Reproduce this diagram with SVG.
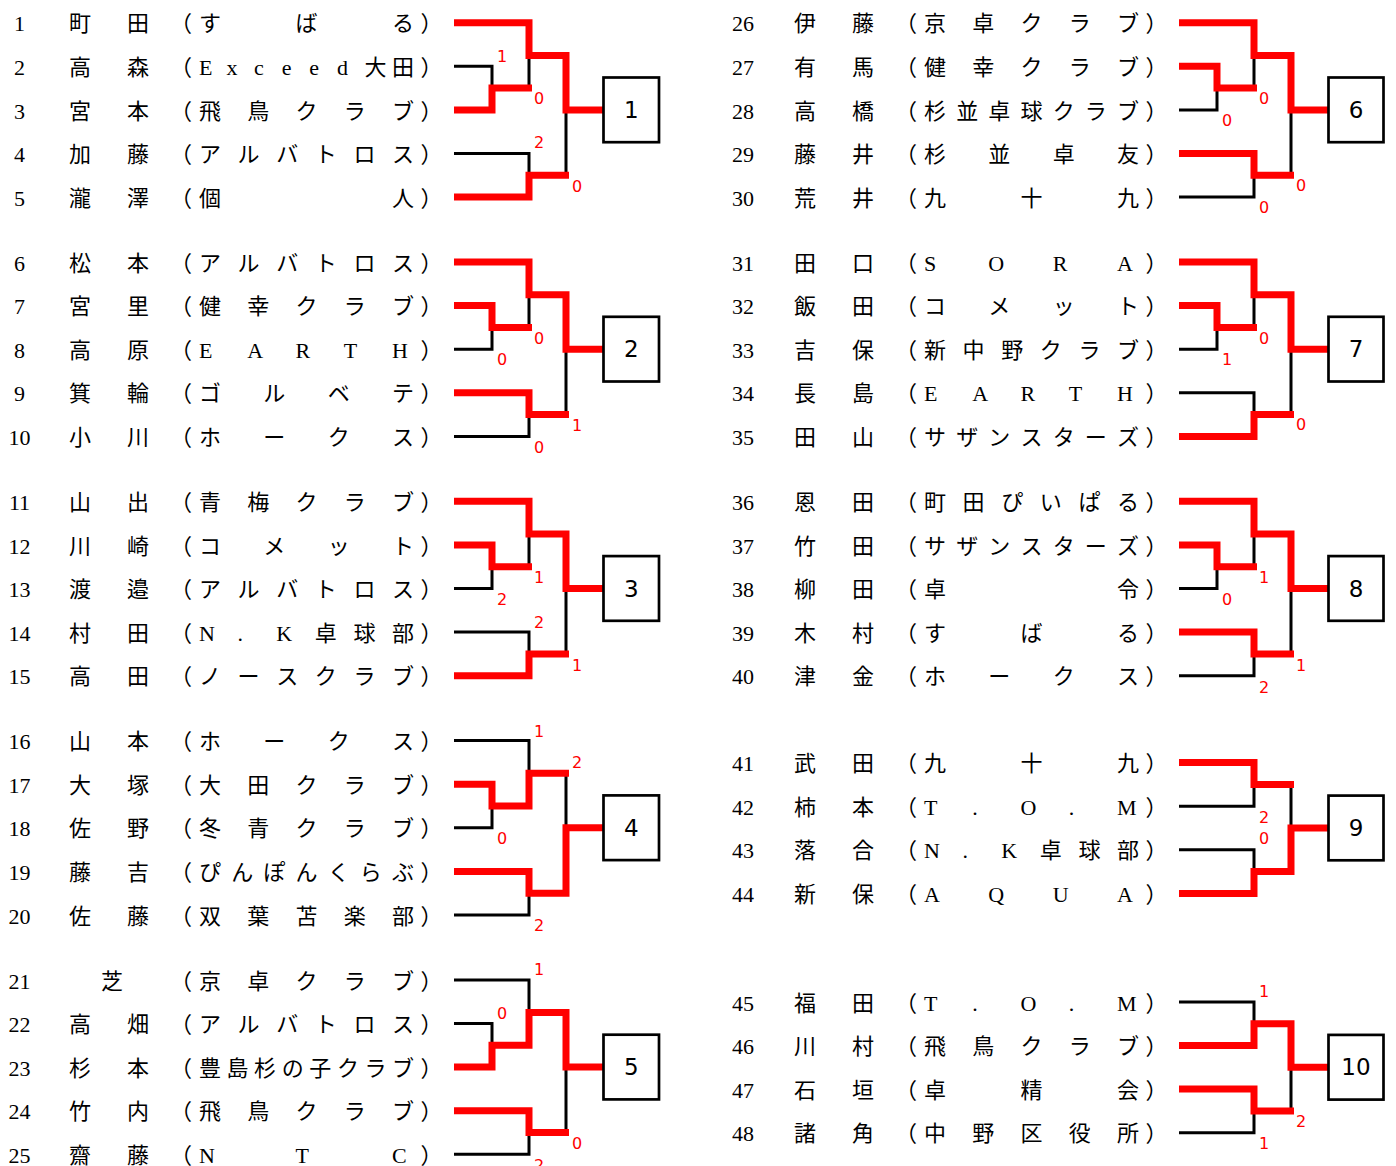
<svg xmlns="http://www.w3.org/2000/svg" width="1396" height="1166" viewBox="0 0 1396 1166">
<style>
.t{font-family:"Liberation Serif","Noto Sans CJK JP",serif;font-size:22px;fill:#000}
.n{font-family:"Liberation Serif","Noto Sans CJK JP",serif;font-size:22px;fill:#000;text-anchor:middle}
.k{fill:none;stroke:#000;stroke-width:3;stroke-linejoin:miter}
.r{fill:none;stroke:#f00;stroke-width:7;stroke-linejoin:miter}
.s{font-family:"DejaVu Sans",Verdana,sans-serif;font-size:16px;fill:#f00;text-anchor:middle}
.box rect{fill:#fff;stroke:#000;stroke-width:2.7}
.box text{font-family:"DejaVu Sans",Verdana,sans-serif;font-size:23px;fill:#000;text-anchor:middle}
</style>
<rect width="1396" height="1166" fill="#fff"/>
<g id="connectors">
<g id="black-lines">
<path class="k" d="M454,22.7H529V88.1M454,66.3H492V109.9H454M492,88.1H529M529,55.4H566M454,153.5H529V197.1H454M529,175.3H566M566,55.4V175.3M566,109.9H603.5"/>
<path class="k" d="M454,262H529V327.4M454,305.6H492V349.2H454M492,327.4H529M529,294.7H566M454,392.8H529V436.4H454M529,414.6H566M566,294.7V414.6M566,349.2H603.5"/>
<path class="k" d="M454,501.3H529V566.7M454,544.9H492V588.5H454M492,566.7H529M529,534H566M454,632.1H529V675.7H454M529,653.9H566M566,534V653.9M566,588.5H603.5"/>
<path class="k" d="M454,740.6H529V806M454,784.2H492V827.8H454M492,806H529M529,773.3H566M454,871.4H529V915H454M529,893.2H566M566,773.3V893.2M566,827.8H603.5"/>
<path class="k" d="M454,979.9H529V1045.3M454,1023.5H492V1067.1H454M492,1045.3H529M529,1012.6H566M454,1110.7H529V1154.3H454M529,1132.5H566M566,1012.6V1132.5M566,1067.1H603.5"/>
<path class="k" d="M1179,22.7H1254V88.1M1179,66.3H1217V109.9H1179M1217,88.1H1254M1254,55.4H1291M1179,153.5H1254V197.1H1179M1254,175.3H1291M1291,55.4V175.3M1291,109.9H1328.5"/>
<path class="k" d="M1179,262H1254V327.4M1179,305.6H1217V349.2H1179M1217,327.4H1254M1254,294.7H1291M1179,392.8H1254V436.4H1179M1254,414.6H1291M1291,294.7V414.6M1291,349.2H1328.5"/>
<path class="k" d="M1179,501.3H1254V566.7M1179,544.9H1217V588.5H1179M1217,566.7H1254M1254,534H1291M1179,632.1H1254V675.7H1179M1254,653.9H1291M1291,534V653.9M1291,588.5H1328.5"/>
<path class="k" d="M1179,762.6H1254V806.2H1179M1254,784.4H1291M1179,849.8H1254V893.4H1179M1254,871.6H1291M1291,784.4V871.6M1291,828H1328.5"/>
<path class="k" d="M1179,1001.9H1254V1045.5H1179M1254,1023.7H1291M1179,1089.1H1254V1132.7H1179M1254,1110.9H1291M1291,1023.7V1110.9M1291,1067.3H1328.5"/>
</g>
<g id="winner-lines">
<path class="r" d="M454,22.7H529V55.4H566V109.9H603.5"/>
<path class="r" d="M454,109.9H492V88.1H532"/>
<path class="r" d="M454,197.1H529V175.3H569"/>
<path class="r" d="M454,262H529V294.7H566V349.2H603.5"/>
<path class="r" d="M454,305.6H492V327.4H532"/>
<path class="r" d="M454,392.8H529V414.6H569"/>
<path class="r" d="M454,501.3H529V534H566V588.5H603.5"/>
<path class="r" d="M454,544.9H492V566.7H532"/>
<path class="r" d="M454,675.7H529V653.9H569"/>
<path class="r" d="M454,784.2H492V806H529V773.3H569"/>
<path class="r" d="M454,871.4H529V893.2H566V827.8H603.5"/>
<path class="r" d="M454,1067.1H492V1045.3H529V1012.6H566V1067.1H603.5"/>
<path class="r" d="M454,1110.7H529V1132.5H569"/>
<path class="r" d="M1179,22.7H1254V55.4H1291V109.9H1328.5"/>
<path class="r" d="M1179,66.3H1217V88.1H1257"/>
<path class="r" d="M1179,153.5H1254V175.3H1294"/>
<path class="r" d="M1179,262H1254V294.7H1291V349.2H1328.5"/>
<path class="r" d="M1179,305.6H1217V327.4H1257"/>
<path class="r" d="M1179,436.4H1254V414.6H1294"/>
<path class="r" d="M1179,501.3H1254V534H1291V588.5H1328.5"/>
<path class="r" d="M1179,544.9H1217V566.7H1257"/>
<path class="r" d="M1179,632.1H1254V653.9H1294"/>
<path class="r" d="M1179,762.6H1254V784.4H1294"/>
<path class="r" d="M1179,893.4H1254V871.6H1291V828H1328.5"/>
<path class="r" d="M1179,1045.5H1254V1023.7H1291V1067.3H1328.5"/>
<path class="r" d="M1179,1089.1H1254V1110.9H1294"/>
</g>
<g id="scores">
<text class="s" x="502" y="62">1</text><text class="s" x="539" y="104">0</text><text class="s" x="539" y="148">2</text><text class="s" x="577" y="192">0</text>
<text class="s" x="539" y="344">0</text><text class="s" x="502" y="365">0</text><text class="s" x="577" y="431">1</text><text class="s" x="539" y="453">0</text>
<text class="s" x="539" y="583">1</text><text class="s" x="502" y="605">2</text><text class="s" x="539" y="628">2</text><text class="s" x="577" y="671">1</text>
<text class="s" x="539" y="737">1</text><text class="s" x="577" y="768">2</text><text class="s" x="502" y="844">0</text><text class="s" x="539" y="931">2</text>
<text class="s" x="539" y="975">1</text><text class="s" x="502" y="1019">0</text><text class="s" x="577" y="1149">0</text><text class="s" x="539" y="1171">2</text>
<text class="s" x="1264" y="104">0</text><text class="s" x="1227" y="126">0</text><text class="s" x="1301" y="191">0</text><text class="s" x="1264" y="213">0</text>
<text class="s" x="1264" y="344">0</text><text class="s" x="1227" y="365">1</text><text class="s" x="1301" y="430">0</text>
<text class="s" x="1264" y="583">1</text><text class="s" x="1227" y="605">0</text><text class="s" x="1301" y="671">1</text><text class="s" x="1264" y="693">2</text>
<text class="s" x="1264" y="823">2</text><text class="s" x="1264" y="844">0</text>
<text class="s" x="1264" y="997">1</text><text class="s" x="1301" y="1127">2</text><text class="s" x="1264" y="1149">1</text>
</g>
</g>
<g id="boxes">
<g id="box1" class="box"><rect x="603.5" y="77.5" width="55.5" height="64.7"/><text x="631.3" y="118">1</text></g>
<g id="box2" class="box"><rect x="603.5" y="316.8" width="55.5" height="64.7"/><text x="631.3" y="357.3">2</text></g>
<g id="box3" class="box"><rect x="603.5" y="556.1" width="55.5" height="64.7"/><text x="631.3" y="596.6">3</text></g>
<g id="box4" class="box"><rect x="603.5" y="795.4" width="55.5" height="64.7"/><text x="631.3" y="835.9">4</text></g>
<g id="box5" class="box"><rect x="603.5" y="1034.7" width="55.5" height="64.7"/><text x="631.3" y="1075.2">5</text></g>
<g id="box6" class="box"><rect x="1328.5" y="77.5" width="55" height="64.7"/><text x="1356" y="118">6</text></g>
<g id="box7" class="box"><rect x="1328.5" y="316.8" width="55" height="64.7"/><text x="1356" y="357.3">7</text></g>
<g id="box8" class="box"><rect x="1328.5" y="556.1" width="55" height="64.7"/><text x="1356" y="596.6">8</text></g>
<g id="box9" class="box"><rect x="1328.5" y="795.6" width="55" height="64.7"/><text x="1356" y="836.1">9</text></g>
<g id="box10" class="box"><rect x="1328.5" y="1034.9" width="55" height="64.7"/><text x="1356" y="1075.4">10</text></g>
</g>
<g id="players">
<g id="p1"><text class="n" x="19.5" y="31.3">1</text><text class="t" x="69 127" y="31.3">町田</text><text class="t" x="170 199 295.5 392 420.5" y="31.3">（すばる）</text></g>
<g id="p2"><text class="n" x="19.5" y="74.9">2</text><text class="t" x="69 127" y="74.9">高森</text><text class="t" x="170 199 226.6 254.1 281.7 309.3 336.9 364.4 392 420.5" y="74.9">（Exceed大田）</text></g>
<g id="p3"><text class="n" x="19.5" y="118.5">3</text><text class="t" x="69 127" y="118.5">宮本</text><text class="t" x="170 199 247.25 295.5 343.75 392 420.5" y="118.5">（飛鳥クラブ）</text></g>
<g id="p4"><text class="n" x="19.5" y="162.1">4</text><text class="t" x="69 127" y="162.1">加藤</text><text class="t" x="170 199 237.6 276.2 314.8 353.4 392 420.5" y="162.1">（アルバトロス）</text></g>
<g id="p5"><text class="n" x="19.5" y="205.7">5</text><text class="t" x="69 127" y="205.7">瀧澤</text><text class="t" x="170 199 392 420.5" y="205.7">（個人）</text></g>
<g id="p6"><text class="n" x="19.5" y="270.6">6</text><text class="t" x="69 127" y="270.6">松本</text><text class="t" x="170 199 237.6 276.2 314.8 353.4 392 420.5" y="270.6">（アルバトロス）</text></g>
<g id="p7"><text class="n" x="19.5" y="314.2">7</text><text class="t" x="69 127" y="314.2">宮里</text><text class="t" x="170 199 247.25 295.5 343.75 392 420.5" y="314.2">（健幸クラブ）</text></g>
<g id="p8"><text class="n" x="19.5" y="357.8">8</text><text class="t" x="69 127" y="357.8">高原</text><text class="t" x="170 199 247.25 295.5 343.75 392 420.5" y="357.8">（EARTH）</text></g>
<g id="p9"><text class="n" x="19.5" y="401.4">9</text><text class="t" x="69 127" y="401.4">箕輪</text><text class="t" x="170 199 263.3 327.7 392 420.5" y="401.4">（ゴルベテ）</text></g>
<g id="p10"><text class="n" x="19.5" y="445">10</text><text class="t" x="69 127" y="445">小川</text><text class="t" x="170 199 263.3 327.7 392 420.5" y="445">（ホークス）</text></g>
<g id="p11"><text class="n" x="19.5" y="509.9">11</text><text class="t" x="69 127" y="509.9">山出</text><text class="t" x="170 199 247.25 295.5 343.75 392 420.5" y="509.9">（青梅クラブ）</text></g>
<g id="p12"><text class="n" x="19.5" y="553.5">12</text><text class="t" x="69 127" y="553.5">川崎</text><text class="t" x="170 199 263.3 327.7 392 420.5" y="553.5">（コメット）</text></g>
<g id="p13"><text class="n" x="19.5" y="597.1">13</text><text class="t" x="69 127" y="597.1">渡邉</text><text class="t" x="170 199 237.6 276.2 314.8 353.4 392 420.5" y="597.1">（アルバトロス）</text></g>
<g id="p14"><text class="n" x="19.5" y="640.7">14</text><text class="t" x="69 127" y="640.7">村田</text><text class="t" x="170 199 237.6 276.2 314.8 353.4 392 420.5" y="640.7">（N.K卓球部）</text></g>
<g id="p15"><text class="n" x="19.5" y="684.3">15</text><text class="t" x="69 127" y="684.3">高田</text><text class="t" x="170 199 237.6 276.2 314.8 353.4 392 420.5" y="684.3">（ノースクラブ）</text></g>
<g id="p16"><text class="n" x="19.5" y="749.2">16</text><text class="t" x="69 127" y="749.2">山本</text><text class="t" x="170 199 263.3 327.7 392 420.5" y="749.2">（ホークス）</text></g>
<g id="p17"><text class="n" x="19.5" y="792.8">17</text><text class="t" x="69 127" y="792.8">大塚</text><text class="t" x="170 199 247.25 295.5 343.75 392 420.5" y="792.8">（大田クラブ）</text></g>
<g id="p18"><text class="n" x="19.5" y="836.4">18</text><text class="t" x="69 127" y="836.4">佐野</text><text class="t" x="170 199 247.25 295.5 343.75 392 420.5" y="836.4">（冬青クラブ）</text></g>
<g id="p19"><text class="n" x="19.5" y="880">19</text><text class="t" x="69 127" y="880">藤吉</text><text class="t" x="170 199 231.2 263.3 295.5 327.7 359.8 392 420.5" y="880">（ぴんぽんくらぶ）</text></g>
<g id="p20"><text class="n" x="19.5" y="923.6">20</text><text class="t" x="69 127" y="923.6">佐藤</text><text class="t" x="170 199 247.25 295.5 343.75 392 420.5" y="923.6">（双葉苫楽部）</text></g>
<g id="p21"><text class="n" x="19.5" y="988.5">21</text><text class="t" x="101" y="988.5">芝</text><text class="t" x="170 199 247.25 295.5 343.75 392 420.5" y="988.5">（京卓クラブ）</text></g>
<g id="p22"><text class="n" x="19.5" y="1032.1">22</text><text class="t" x="69 127" y="1032.1">高畑</text><text class="t" x="170 199 237.6 276.2 314.8 353.4 392 420.5" y="1032.1">（アルバトロス）</text></g>
<g id="p23"><text class="n" x="19.5" y="1075.7">23</text><text class="t" x="69 127" y="1075.7">杉本</text><text class="t" x="170 199 226.6 254.1 281.7 309.3 336.9 364.4 392 420.5" y="1075.7">（豊島杉の子クラブ）</text></g>
<g id="p24"><text class="n" x="19.5" y="1119.3">24</text><text class="t" x="69 127" y="1119.3">竹内</text><text class="t" x="170 199 247.25 295.5 343.75 392 420.5" y="1119.3">（飛鳥クラブ）</text></g>
<g id="p25"><text class="n" x="19.5" y="1162.9">25</text><text class="t" x="69 127" y="1162.9">齋藤</text><text class="t" x="170 199 295.5 392 420.5" y="1162.9">（NTC）</text></g>
<g id="p26"><text class="n" x="743" y="31.3">26</text><text class="t" x="794 852" y="31.3">伊藤</text><text class="t" x="895 924 972.25 1020.5 1068.75 1117 1145.5" y="31.3">（京卓クラブ）</text></g>
<g id="p27"><text class="n" x="743" y="74.9">27</text><text class="t" x="794 852" y="74.9">有馬</text><text class="t" x="895 924 972.25 1020.5 1068.75 1117 1145.5" y="74.9">（健幸クラブ）</text></g>
<g id="p28"><text class="n" x="743" y="118.5">28</text><text class="t" x="794 852" y="118.5">高橋</text><text class="t" x="895 924 956.2 988.3 1020.5 1052.7 1084.8 1117 1145.5" y="118.5">（杉並卓球クラブ）</text></g>
<g id="p29"><text class="n" x="743" y="162.1">29</text><text class="t" x="794 852" y="162.1">藤井</text><text class="t" x="895 924 988.3 1052.7 1117 1145.5" y="162.1">（杉並卓友）</text></g>
<g id="p30"><text class="n" x="743" y="205.7">30</text><text class="t" x="794 852" y="205.7">荒井</text><text class="t" x="895 924 1020.5 1117 1145.5" y="205.7">（九十九）</text></g>
<g id="p31"><text class="n" x="743" y="270.6">31</text><text class="t" x="794 852" y="270.6">田口</text><text class="t" x="895 924 988.3 1052.7 1117 1145.5" y="270.6">（SORA）</text></g>
<g id="p32"><text class="n" x="743" y="314.2">32</text><text class="t" x="794 852" y="314.2">飯田</text><text class="t" x="895 924 988.3 1052.7 1117 1145.5" y="314.2">（コメット）</text></g>
<g id="p33"><text class="n" x="743" y="357.8">33</text><text class="t" x="794 852" y="357.8">吉保</text><text class="t" x="895 924 962.6 1001.2 1039.8 1078.4 1117 1145.5" y="357.8">（新中野クラブ）</text></g>
<g id="p34"><text class="n" x="743" y="401.4">34</text><text class="t" x="794 852" y="401.4">長島</text><text class="t" x="895 924 972.25 1020.5 1068.75 1117 1145.5" y="401.4">（EARTH）</text></g>
<g id="p35"><text class="n" x="743" y="445">35</text><text class="t" x="794 852" y="445">田山</text><text class="t" x="895 924 956.2 988.3 1020.5 1052.7 1084.8 1117 1145.5" y="445">（サザンスターズ）</text></g>
<g id="p36"><text class="n" x="743" y="509.9">36</text><text class="t" x="794 852" y="509.9">恩田</text><text class="t" x="895 924 962.6 1001.2 1039.8 1078.4 1117 1145.5" y="509.9">（町田ぴいぱる）</text></g>
<g id="p37"><text class="n" x="743" y="553.5">37</text><text class="t" x="794 852" y="553.5">竹田</text><text class="t" x="895 924 956.2 988.3 1020.5 1052.7 1084.8 1117 1145.5" y="553.5">（サザンスターズ）</text></g>
<g id="p38"><text class="n" x="743" y="597.1">38</text><text class="t" x="794 852" y="597.1">柳田</text><text class="t" x="895 924 1117 1145.5" y="597.1">（卓令）</text></g>
<g id="p39"><text class="n" x="743" y="640.7">39</text><text class="t" x="794 852" y="640.7">木村</text><text class="t" x="895 924 1020.5 1117 1145.5" y="640.7">（すばる）</text></g>
<g id="p40"><text class="n" x="743" y="684.3">40</text><text class="t" x="794 852" y="684.3">津金</text><text class="t" x="895 924 988.3 1052.7 1117 1145.5" y="684.3">（ホークス）</text></g>
<g id="p41"><text class="n" x="743" y="771.2">41</text><text class="t" x="794 852" y="771.2">武田</text><text class="t" x="895 924 1020.5 1117 1145.5" y="771.2">（九十九）</text></g>
<g id="p42"><text class="n" x="743" y="814.8">42</text><text class="t" x="794 852" y="814.8">柿本</text><text class="t" x="895 924 972.25 1020.5 1068.75 1117 1145.5" y="814.8">（T.O.M）</text></g>
<g id="p43"><text class="n" x="743" y="858.4">43</text><text class="t" x="794 852" y="858.4">落合</text><text class="t" x="895 924 962.6 1001.2 1039.8 1078.4 1117 1145.5" y="858.4">（N.K卓球部）</text></g>
<g id="p44"><text class="n" x="743" y="902">44</text><text class="t" x="794 852" y="902">新保</text><text class="t" x="895 924 988.3 1052.7 1117 1145.5" y="902">（AQUA）</text></g>
<g id="p45"><text class="n" x="743" y="1010.5">45</text><text class="t" x="794 852" y="1010.5">福田</text><text class="t" x="895 924 972.25 1020.5 1068.75 1117 1145.5" y="1010.5">（T.O.M）</text></g>
<g id="p46"><text class="n" x="743" y="1054.1">46</text><text class="t" x="794 852" y="1054.1">川村</text><text class="t" x="895 924 972.25 1020.5 1068.75 1117 1145.5" y="1054.1">（飛鳥クラブ）</text></g>
<g id="p47"><text class="n" x="743" y="1097.7">47</text><text class="t" x="794 852" y="1097.7">石垣</text><text class="t" x="895 924 1020.5 1117 1145.5" y="1097.7">（卓精会）</text></g>
<g id="p48"><text class="n" x="743" y="1141.3">48</text><text class="t" x="794 852" y="1141.3">諸角</text><text class="t" x="895 924 972.25 1020.5 1068.75 1117 1145.5" y="1141.3">（中野区役所）</text></g>
</g>
</svg>
